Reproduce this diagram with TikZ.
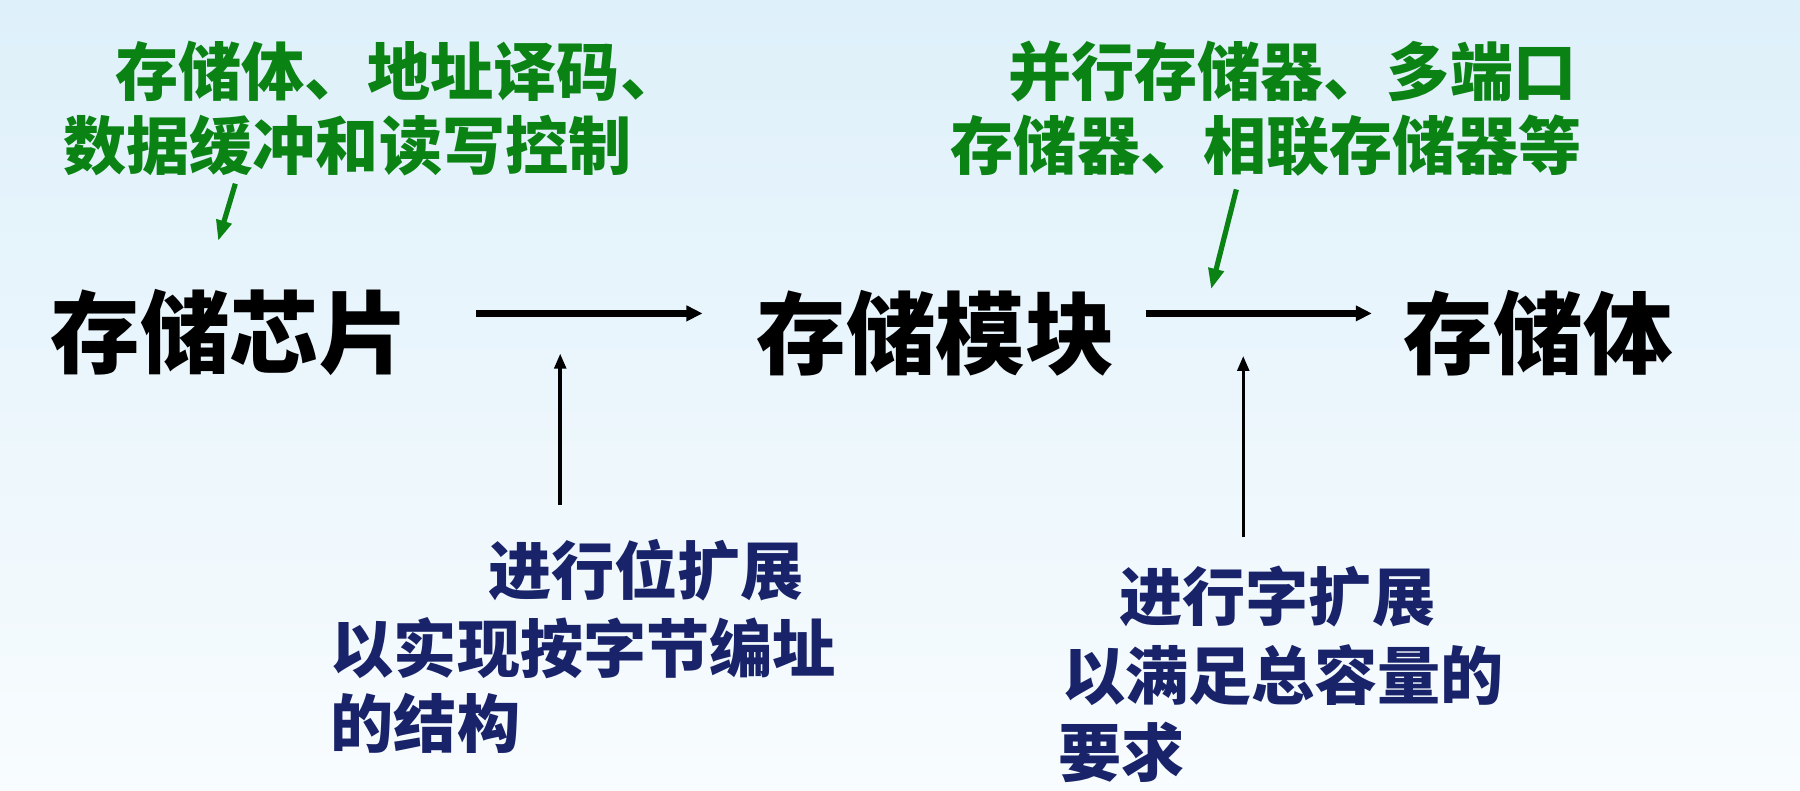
\documentclass[tikz,border=0pt]{standalone}
\usepackage{fontspec}
\newfontfamily\cjk{Noto Sans CJK SC}
\usetikzlibrary{arrows.meta}
\definecolor{gtxt}{RGB}{10,130,20}
\definecolor{ntxt}{RGB}{25,35,105}
\definecolor{bgtop}{RGB}{222,240,250}
\definecolor{bgbot}{RGB}{248,252,254}
\begin{document}
\begin{tikzpicture}[x=1pt,y=-1pt,
  big/.style={font=\cjk\bfseries\fontsize{78}{80}\selectfont, inner sep=0pt},
  gnote/.style={font=\cjk\bfseries\fontsize{55}{58}\selectfont, text=gtxt, inner sep=0pt, anchor=west},
  nnote/.style={font=\cjk\bfseries\fontsize{55}{58}\selectfont, text=ntxt, inner sep=0pt, anchor=west},
  blk/.style={-{Triangle[length=14pt,width=13pt]}, line width=6pt},
  thin/.style={-{Triangle[length=13pt,width=10pt]}, line width=3pt},
  garr/.style={-{Triangle[length=18pt,width=13pt]}, line width=4.5pt, draw=gtxt}]
\shade[top color=bgtop,bottom color=bgbot] (0,0) rectangle (1568,689);
\useasboundingbox (0,0) rectangle (1568,689);
\node[big] (chip) at (200,290) {存储芯片};
\node[big] (mod) at (815,290) {存储模块};
\node[big] (body) at (1340,290) {存储体};
\coordinate (a1s) at (415,273); \coordinate (a1e) at (612,273);
\coordinate (a2s) at (998,273); \coordinate (a2e) at (1195,273);
\draw[blk] (a1s) -- (a1e);
\draw[blk] (a2s) -- (a2e);
\node[gnote] (g1) at (100,62) {存储体、地址译码、};
\node[gnote] (g2) at (55,127) {数据缓冲和读写控制};
\node[gnote] (g3) at (878,62) {并行存储器、多端口};
\node[gnote] (g4) at (828,127) {存储器、相联存储器等};
\coordinate (ga1) at (205,160); \coordinate (ga1e) at (190,210);
\coordinate (ga2) at (1077,165); \coordinate (ga2e) at (1055,252);
\draw[garr] (ga1) -- (ga1e);
\draw[garr] (ga2) -- (ga2e);
\node[nnote] (n1) at (425,497) {进行位扩展};
\node[nnote] (n2) at (288,565) {以实现按字节编址};
\node[nnote] (n3) at (288,630) {的结构};
\node[nnote] (m1) at (975,520) {进行字扩展};
\node[nnote] (m2) at (925,588) {以满足总容量的};
\node[nnote] (m3) at (922,655) {要求};
\coordinate (v1s) at (488,440); \coordinate (v1e) at (488,308);
\coordinate (v2s) at (1083,468); \coordinate (v2e) at (1083,310);
\draw[thin] (v1s) -- (v1e);
\draw[thin] (v2s) -- (v2e);
\end{tikzpicture}
\end{document}
